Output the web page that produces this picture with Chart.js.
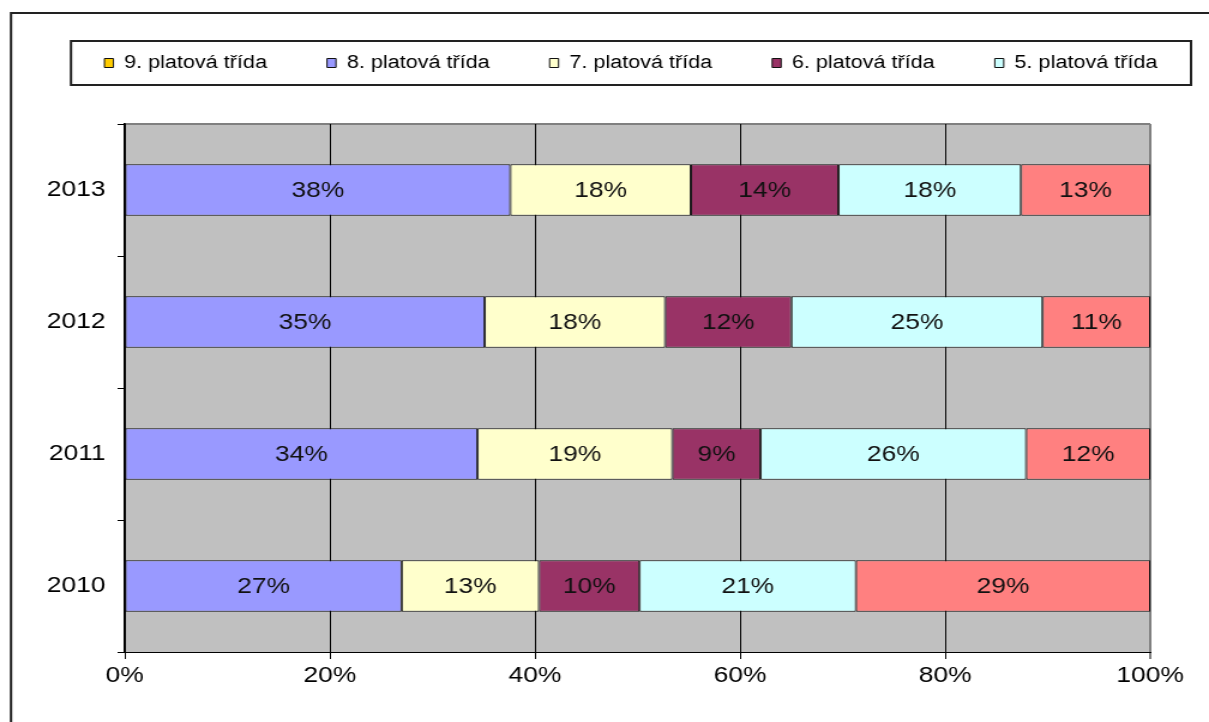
<!DOCTYPE html>
<html>
<head>
    <title>Platové třídy</title>
    <script src="https://cdn.jsdelivr.net/npm/chart.js"></script>
    <style>
        body { margin: 0; background: #fff; }
        /* původní obrázek je vodorovně roztažený, proto kreslíme užší plátno a roztáhneme ho */
        #tridyChart { width: 1209px !important; height: 722px !important; }
    </style>
</head>
<body>
    <canvas id="tridyChart" width="1008" height="722"></canvas>

    <script>
        // roky (shora dolů) a podíly jednotlivých tříd v %
        const roky = ['2013', '2012', '2011', '2010'];
        const trida9 = [0, 0, 0, 0];
        const trida8 = [37.6, 35.1, 34.4, 27.0];
        const trida7 = [17.6, 17.6, 19.0, 13.4];
        const trida6 = [14.4, 12.3, 8.6, 9.8];
        const trida5 = [17.8, 24.5, 25.9, 21.1];
        const trida4 = [12.6, 10.5, 12.1, 28.7];
        const osaX = [0, 20, 40, 60, 80, 100];

        const FONT = 'Liberation Sans, Arial, sans-serif';
        const SX = 1008 / 1209; // přepočet vodorovných souřadnic

        // šedé pozadí grafu, rámečky
        const pozadi = {
            id: 'pozadi',
            beforeDraw(chart) {
                const { ctx, chartArea: a } = chart;
                ctx.save();
                ctx.fillStyle = '#fff';
                ctx.fillRect(0, 0, chart.width, chart.height);
                ctx.fillStyle = '#c0c0c0';
                ctx.fillRect(a.left, a.top, a.right - a.left, a.bottom - a.top);
                ctx.strokeStyle = '#808080';
                ctx.lineWidth = 2;
                ctx.beginPath();
                ctx.moveTo(a.left, a.top);
                ctx.lineTo(a.right, a.top);
                ctx.stroke();
                ctx.restore();
            },
            afterDraw(chart) {
                const ctx = chart.ctx;
                ctx.save();
                ctx.strokeStyle = '#222';
                // vnější rámeček
                ctx.lineWidth = 2;
                ctx.beginPath();
                ctx.moveTo(11 * SX, chart.height);
                ctx.lineTo(11 * SX, 13);
                ctx.lineTo(chart.width, 13);
                ctx.stroke();
                // rámeček legendy
                ctx.strokeRect(71 * SX, 41, 1120 * SX, 44);
                ctx.restore();
            }
        };

        // legenda: jeden řádek, pevná výška a posun do rámečku
        const legendaPos = {
            id: 'legendaPos',
            beforeLayout(chart) {
                const lg = chart.legend;
                if (lg && !lg._upraveno) {
                    const fit = lg.fit;
                    lg.fit = function () {
                        this.maxWidth = 1100;
                        fit.call(this);
                        this.height = 124;
                    };
                    lg._upraveno = true;
                }
            },
            afterLayout(chart) {
                const lg = chart.legend;
                const pad = lg.options.labels.padding;
                lg.left = 32;
                lg.right = 1020;
                lg.width = lg.right - lg.left;
                lg.top = 63 - 9 - pad;
                lg.adjustHitBoxes();
            }
        };

        // popisky procent uprostřed úseků
        const popisky = {
            id: 'popisky',
            afterDatasetsDraw(chart) {
                const ctx = chart.ctx;
                ctx.save();
                ctx.font = '22px ' + FONT;
                ctx.fillStyle = '#111';
                ctx.textAlign = 'center';
                ctx.textBaseline = 'middle';
                chart.data.datasets.forEach((ds, i) => {
                    const meta = chart.getDatasetMeta(i);
                    meta.data.forEach((bar, j) => {
                        const v = ds.data[j];
                        if (!v) return;
                        const p = bar.getCenterPoint();
                        ctx.fillText(Math.round(v) + '%', p.x, p.y + 1);
                    });
                });
                ctx.restore();
            }
        };

        function sada(label, data, barva) {
            return {
                label: label,
                data: data,
                backgroundColor: barva,
                borderColor: '#111',
                borderWidth: 1,
                borderSkipped: false,
                categoryPercentage: 1,
                barPercentage: 0.39
            };
        }

        const ctx = document.getElementById('tridyChart').getContext('2d');
        const chart = new Chart(ctx, {
            type: 'bar',
            data: {
                labels: roky,
                datasets: [
                    sada('9. platová třída', trida9, '#ffcc00'),
                    sada('8. platová třída', trida8, '#9999ff'),
                    sada('7. platová třída', trida7, '#ffffcc'),
                    sada('6. platová třída', trida6, '#993366'),
                    sada('5. platová třída', trida5, '#ccffff'),
                    sada('4. platová třída', trida4, '#ff8080')
                ]
            },
            options: {
                indexAxis: 'y',
                responsive: false,
                animation: false,
                layout: {
                    padding: { left: 8, right: 49, top: 0, bottom: 30 }
                },
                plugins: {
                    legend: {
                        position: 'top',
                        labels: {
                            boxWidth: 7.5,
                            boxHeight: 9,
                            padding: 50,
                            color: '#000',
                            font: { family: FONT, size: 18 },
                            filter: item => item.datasetIndex < 5
                        }
                    },
                    tooltip: { enabled: false }
                },
                scales: {
                    x: {
                        stacked: true,
                        min: 0,
                        max: 100,
                        afterFit: s => { s.height = 40; },
                        afterBuildTicks: s => { s.ticks = osaX.map(v => ({ value: v })); },
                        ticks: {
                            color: '#000',
                            padding: 4,
                            font: { family: FONT, size: 22 },
                            callback: v => v + '%'
                        },
                        grid: {
                            color: c => (c.tick && c.tick.value === 100) ? '#808080' : '#000',
                            lineWidth: c => (c.tick && c.tick.value === 100) ? 2 : 1,
                            tickLength: 7
                        },
                        border: { color: '#000', width: 1 }
                    },
                    y: {
                        stacked: true,
                        afterFit: s => { s.width = 96; },
                        ticks: {
                            color: '#000',
                            padding: 10,
                            font: { family: FONT, size: 22 }
                        },
                        grid: {
                            drawOnChartArea: false,
                            color: '#000',
                            tickLength: 6
                        },
                        border: { color: '#000', width: 1.7 }
                    }
                }
            },
            plugins: [pozadi, legendaPos, popisky]
        });
    </script>
</body>
</html>
